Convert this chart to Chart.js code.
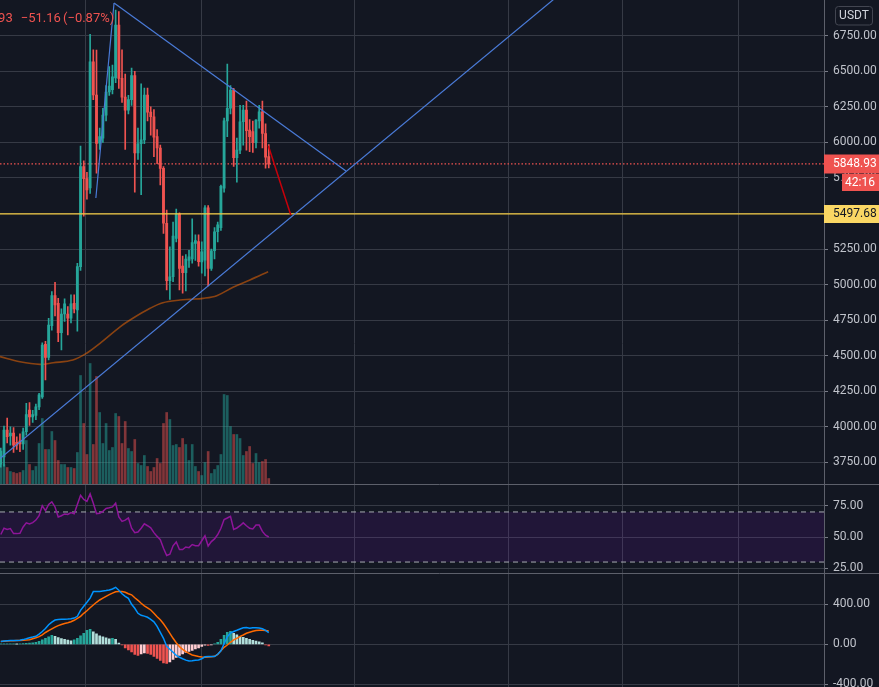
<!DOCTYPE html>
<html>
<head>
<meta charset="utf-8">
<title>USDT chart</title>
<script src="https://cdn.jsdelivr.net/npm/chart.js@4.4.1/dist/chart.umd.min.js"></script>
<style>
  html, body { margin:0; padding:0; background:#131722; overflow:hidden; }
  canvas { display:block; }
</style>
</head>
<body>
<canvas id="chart" width="879" height="687"></canvas>
<script>
// ---------------- data ----------------
const opens = [3737,3787,3977,3935,3955,3890,3900,3880,3965,4118, 4070,4080,4140,4210,4580,4488,4710,4922,4868,4661,
  4793,4793,4763,4868,4821,5126,5829,5745,5680,6567, 6333,5995,6030,6192,6354,6370,6453,6825,6450,6318,
  6227,6300,6470,5925,5990,6017,6333,6213,6180,6040, 5960,5817,5431,5027,5055,5325,5495,5130,5084,5170,
  5180,5290,5302,5160,5172,5539,5114,5238,5371,5400, 5677,6151,6240,6368,5892,5945,6145,6227,6087,6075,
  5997,6150,6215,6062,5900];
const highs = [3850,4005,4061,4000,3995,3930,3950,3990,4165,4170, 4115,4160,4235,4590,4600,4763,4950,5016,4903,4830,
  4900,4845,4927,4927,5150,5974,5870,5790,6760,6650, 6649,6100,6240,6400,6532,6544,6930,6920,6650,6480,
  6330,6523,6500,6100,6412,6382,6382,6250,6230,6090, 5980,5830,5524,5266,5440,5530,5505,5200,5210,5240,
  5462,5350,5350,5300,5555,5555,5250,5400,5440,5700, 6170,6550,6400,6380,6030,6260,6260,6290,6160,6150,
  6160,6260,6290,6130,5985];
const lows = [3716,3723,3887,3870,3820,3840,3825,3840,3940,4010, 4030,4050,4120,4200,4330,4470,4680,4780,4598,4540,
  4740,4645,4730,4800,4673,5100,5480,5600,5640,6300, 5784,5950,6000,6150,6330,6340,6420,6380,6280,5950,
  6200,6260,5650,5880,5632,5990,6150,6050,5900,5850, 5700,5360,4962,4896,5020,5300,4962,4940,4955,5120,
  5150,5170,5130,5080,5060,4990,5100,5180,5300,5380, 5650,6040,6200,5830,5720,5920,5980,5945,5935,5930,
  5960,6100,5960,5818,5820];
const closes = [3829,3977,3930,3955,3870,3870,3880,3965,4085,4070, 4085,4140,4225,4575,4488,4715,4922,4856,4661,4793,
  4864,4763,4864,4828,5126,5829,5745,5665,6567,6333, 5993,6040,6192,6354,6396,6460,6825,6450,6318,6227,
  6300,6470,5925,5990,6017,6333,6213,6180,6037,5960, 5817,5431,5027,5055,5340,5495,5114,5084,5180,5195,
  5295,5310,5161,5230,5539,5114,5238,5371,5420,5690, 6151,6240,6368,5892,5945,6145,6227,6082,6040,5997,
  6157,6215,6062,5895,5848.93];
const volumes = [220,200,170,130,120,110,120,140,440,200, 140,180,410,660,350,350,530,440,240,200,
  200,170,170,160,320,1090,610,300,1210,400, 1080,720,410,610,340,370,710,680,410,630,
  360,330,450,210,190,290,180,130,170,260, 210,610,720,650,390,400,370,460,400,240,
  400,180,130,90,220,330,110,150,190,300, 900,890,580,500,500,460,290,330,380,210,
  310,220,230,250,60];
const maIndex  = [-0.25, 6.0, 12.3, 16.4, 22.6, 26.9, 31.1, 37.4, 41.4, 46.8, 50.8, 56.2, 59.3, 63.4, 67.7, 72.8, 78.1, 83.8];
const maValues = [4493, 4457, 4439, 4450, 4469, 4517, 4587, 4703, 4763, 4833, 4872, 4891, 4896, 4903, 4922, 4981, 5032, 5090];
const rsiValues = [52,57,56,56.7,52.7,52.7,53,58,61.3,60.5, 61.5,63.5,67,75,71,76,78,74,66,67,
  68.4,68,69.5,68.5,76,83.3,80,78.5,84.4,77, 68.7,69,70.5,72.8,73.3,74,77,66,62.5,63.5,
  65.3,57,53.5,54,57,60.5,59,57.3,53.5,50.5, 47.9,41,35.2,36.3,43,46,40,40,42,41.5,
  44,43,43,47,51,42.8,46.3,48.5,52,57, 64,65.2,66.5,56,57.2,59,61.3,59,57,56.5,
  59.5,59.5,54.5,51.5,50];
const macdValues = [28,32,35,37,38,39,40,47,56,66, 72,80,102,128,158,195,222,243,248,250,
  250,252,256,262,280,340,380,420,462,527, 527,527,532,537,543,553,570,540,505,480,
  460,400,360,310,290,282,270,250,225,180, 120,60,-20,-50,-80,-110,-130,-145,-158,-167,
  -165,-160,-157,-145,-125,-123,-123,-123,-100,-65, 5,75,112,128,140,153,165,168,160,165,
  166,162,155,140,117];
const signalValues = [27,30,33,35,36,37,37,40,42,45, 55,65,77,95,118,137,155,172,187,198,
  208,215,225,240,260,280,310,335,365,393, 420,443,462,480,497,512,525,527,527,520,
  505,495,465,440,410,385,365,343,310,275, 245,205,160,110,60,15,-23,-50,-73,-90,
  -107,-115,-123,-127,-130,-128,-124,-120,-100,-65, -30,-7,20,45,60,80,93,110,120,130,
  137,140,141,138,133];
const histValues = [3,3,3,3,3,2,3,6,10,12, 15,20,30,45,60,75,90,80,68,58,
  50,42,35,45,60,85,110,140,150,125, 105,85,75,65,55,60,50,12,-5,-35,
  -55,-75,-100,-110,-95,-85,-90,-100,-120,-140, -160,-185,-190,-175,-150,-130,-110,-95,-80,-70,
  -60,-45,-35,-20,-8,-12,-5,5,20,50, 90,120,130,110,95,80,70,60,50,40,
  32,25,15,-5,-15];

const priceTicks = [3750,4000,4250,4500,4750,5000,5250,5500,5750,6000,6250,6500,6750];
const rsiTicks = [25, 50, 75];
const macdTicks = [-400, 0, 400];
const timeGrid = [26.7, 62.8, 111.0, 159.0, 195.0, 231.1];
const lastPrice = 5848.93;
const levelPrice = 5497.68;
const rsiUpper = 70, rsiLower = 30;
const descTrend = [{x:35.5, y:6980}, {x:108.2, y:5798}];
const ascTrend  = [{x:-0.25, y:3777}, {x:190, y:7316}];
const legTrend  = [{x:29.8, y:5609}, {x:35.5, y:6980}];
const projection = [{x:83.86, y:5976}, {x:90.9, y:5489}];
const legendParts = ['93', '\u221251.16', '(\u22120.87%)'];
const countdown = '42:16';
const currency = 'USDT';

// ---------------- style ----------------
const BG = '#131722', GRID = '#363a45', SEP = '#5d606b', TXT = '#c0c3cb';
const UP = '#26a69a', DN = '#ef5350';
const X_MIN = -0.25, X_MAX = 258.05;
const FONT = { family: 'Roboto, "Liberation Sans", sans-serif', size: 12 };

const idx = opens.map((_, i) => i);
const isUp = i => closes[i] >= opens[i];
const candleColor = c => (c.dataIndex === undefined || isUp(c.dataIndex)) ? UP : DN;
const volColor = c => (c.dataIndex === undefined || isUp(c.dataIndex)) ? 'rgba(38,166,154,0.5)' : 'rgba(239,83,80,0.5)';
const histColor = c => {
  const i = c.dataIndex; if (i === undefined) return UP;
  const v = histValues[i], p = i > 0 ? histValues[i - 1] : v;
  if (v >= 0) return v >= p ? '#26a69a' : '#b2dfdb';
  return v > p ? '#ffcdd2' : '#ef5350';
};
const flat = (v) => [{x: X_MIN, y: v}, {x: X_MAX, y: v}];
const lineDs = (data, axis, color, width, extra) => Object.assign({
  type: 'line', data, yAxisID: axis, xAxisID: 'x', borderColor: color, borderWidth: width,
  pointRadius: 0, pointHoverRadius: 0, fill: false, tension: 0
}, extra || {});

const noPad = s => { s.paddingTop = 0; s.paddingBottom = 0; s.paddingLeft = 0; s.paddingRight = 0; };
const rightAxis = (ticksArr, min, max, weight) => ({
  type: 'linear', position: 'right', stack: 'panes', stackWeight: weight, min, max,
  afterBuildTicks: s => { s.ticks = ticksArr.map(v => ({ value: v })); },
  afterFit: s => { s.width = 55; noPad(s); },
  ticks: { color: TXT, font: FONT, padding: 5, autoSkip: false, callback: v => Number(v).toFixed(2) },
  grid: { color: GRID, tickColor: '#787b86', tickLength: 4, drawTicks: true, lineWidth: 1 },
  border: { display: true, color: SEP, width: 1 }
});

const overlay = {
  id: 'overlay',
  beforeDraw(chart) {
    const c = chart.ctx; c.save(); c.fillStyle = BG; c.fillRect(0, 0, chart.width, chart.height); c.restore();
  },
  afterDraw(chart) {
    const c = chart.ctx, yP = chart.scales.y, yR = chart.scales.yRsi, W = chart.width;
    c.save();
    // pane separators
    c.strokeStyle = SEP; c.lineWidth = 1;
    for (const s of [yP, yR]) {
      const yy = Math.floor(s.bottom) + 0.5;
      c.beginPath(); c.moveTo(0, yy); c.lineTo(W, yy); c.stroke();
    }
    // legend (top-left)
    c.font = '13px Roboto, sans-serif'; c.fillStyle = DN; c.textBaseline = 'alphabetic';
    c.textAlign = 'right'; c.fillText(legendParts[0], 12.7, 21.5);
    c.textAlign = 'left'; c.fillText(legendParts[1], 20.7, 21.5); c.fillText(legendParts[2], 63, 21.5);
    // currency box
    const bx = 835.5, by = 6.5, bw = 37, bh = 18.5, r = 3;
    c.strokeStyle = '#434651'; c.lineWidth = 1;
    c.beginPath();
    c.moveTo(bx + r, by); c.lineTo(bx + bw - r, by); c.quadraticCurveTo(bx + bw, by, bx + bw, by + r);
    c.lineTo(bx + bw, by + bh - r); c.quadraticCurveTo(bx + bw, by + bh, bx + bw - r, by + bh);
    c.lineTo(bx + r, by + bh); c.quadraticCurveTo(bx, by + bh, bx, by + bh - r);
    c.lineTo(bx, by + r); c.quadraticCurveTo(bx, by, bx + r, by); c.stroke();
    c.font = '12px Roboto, sans-serif'; c.fillStyle = '#d1d4dc'; c.textAlign = 'center'; c.textBaseline = 'middle';
    c.fillText(currency, bx + bw / 2, by + bh / 2 + 0.5);
    // price tags
    const axL = yP.left;
    const yLast = yP.getPixelForValue(lastPrice);
    c.fillStyle = DN; c.fillRect(axL, Math.round(yLast) - 9.5, W - axL, 19);
    c.fillStyle = '#ffffff'; c.textAlign = 'left'; c.fillText(lastPrice.toFixed(2), axL + 9, yLast + 0.5);
    c.fillStyle = DN; c.fillRect(842, Math.round(yLast) + 10, W - 842, 17);
    c.fillStyle = '#ffffff'; c.textAlign = 'right'; c.fillText(countdown, W - 4, Math.round(yLast) + 19);
    const yLev = yP.getPixelForValue(levelPrice);
    c.fillStyle = '#fad764'; c.fillRect(axL, Math.round(yLev) - 9, W - axL, 18);
    c.fillStyle = '#131722'; c.textAlign = 'left'; c.fillText(levelPrice.toFixed(2), axL + 9, yLev + 0.5);
    c.restore();
  }
};

Chart.defaults.font.family = FONT.family;

new Chart(document.getElementById('chart'), {
  type: 'bar',
  data: {
    datasets: [
      { type: 'bar', data: idx.map(i => ({ x: i, y: volumes[i] })), yAxisID: 'yVol', xAxisID: 'x',
        grouped: false, barThickness: 2, backgroundColor: volColor, borderWidth: 0, order: 20 },
      lineDs(maIndex.map((x, i) => ({ x, y: maValues[i] })), 'y', 'rgba(255,109,0,0.5)', 1.6, { tension: 0.35, order: 15 }),
      lineDs(flat(lastPrice), 'y', DN, 1.2, { borderDash: [1.5, 2], order: 14 }),
      { type: 'bar', data: idx.map(i => ({ x: i, y: [lows[i], highs[i]] })), yAxisID: 'y', xAxisID: 'x',
        grouped: false, barThickness: 1, backgroundColor: candleColor, borderWidth: 0, order: 11 },
      { type: 'bar', data: idx.map(i => ({ x: i, y: [opens[i], closes[i]] })), yAxisID: 'y', xAxisID: 'x',
        grouped: false, barThickness: 2.2, minBarLength: 1, backgroundColor: candleColor, borderWidth: 0, order: 10 },
      lineDs(flat(levelPrice), 'y', '#f5cc43', 1.3, { order: 3 }),
      lineDs(legTrend, 'y', '#4a7bd8', 1.2, { order: 2 }),
      lineDs(descTrend, 'y', '#4a7bd8', 1.2, { order: 2 }),
      lineDs(ascTrend, 'y', '#4a7bd8', 1.2, { order: 2 }),
      lineDs(projection, 'y', '#c8000a', 1.5, { order: 1 }),
      // RSI pane
      lineDs(flat(rsiUpper), 'yRsi', '#a8abb3', 1, { borderDash: [5, 4], order: 8 }),
      lineDs(flat(rsiLower), 'yRsi', '#a8abb3', 1, { borderDash: [5, 4], fill: '-1', backgroundColor: 'rgba(153,21,255,0.1)', order: 8 }),
      lineDs(idx.map(i => ({ x: i, y: rsiValues[i] })), 'yRsi', '#8e1599', 1.5, { order: 5 }),
      // MACD pane
      { type: 'bar', data: idx.map(i => ({ x: i, y: histValues[i] })), yAxisID: 'yMacd', xAxisID: 'x',
        grouped: false, barThickness: 2, backgroundColor: histColor, borderWidth: 0, order: 9 },
      lineDs(idx.map(i => ({ x: i, y: macdValues[i] })), 'yMacd', '#0094ff', 1.5, { order: 5 }),
      lineDs(idx.map(i => ({ x: i, y: signalValues[i] })), 'yMacd', '#ff6a00', 1.5, { order: 6 })
    ]
  },
  options: {
    responsive: false, animation: false, devicePixelRatio: 1,
    layout: { padding: 0, autoPadding: false },
    plugins: { legend: { display: false }, tooltip: { enabled: false } },
    events: [],
    scales: {
      x: { type: 'linear', position: 'bottom', min: X_MIN, max: X_MAX, offset: false,
           afterBuildTicks: s => { s.ticks = timeGrid.map(v => ({ value: v })); },
           afterFit: s => { s.height = 0; noPad(s); },
           ticks: { display: false }, grid: { color: GRID, offset: false, drawTicks: false, lineWidth: 1 },
           border: { display: false } },
      y: rightAxis(priceTicks, 3593.9, 7001.05, 484.5),
      yRsi: rightAxis(rsiTicks, 20.85, 91.93, 89),
      yMacd: rightAxis(macdTicks, -427, 708, 113.5),
      yVol: { type: 'linear', position: 'left', display: false, min: -2025, max: 4845,
              afterFit: s => { s.width = 0; noPad(s); } }
    }
  },
  plugins: [overlay]
});
</script>
</body>
</html>
